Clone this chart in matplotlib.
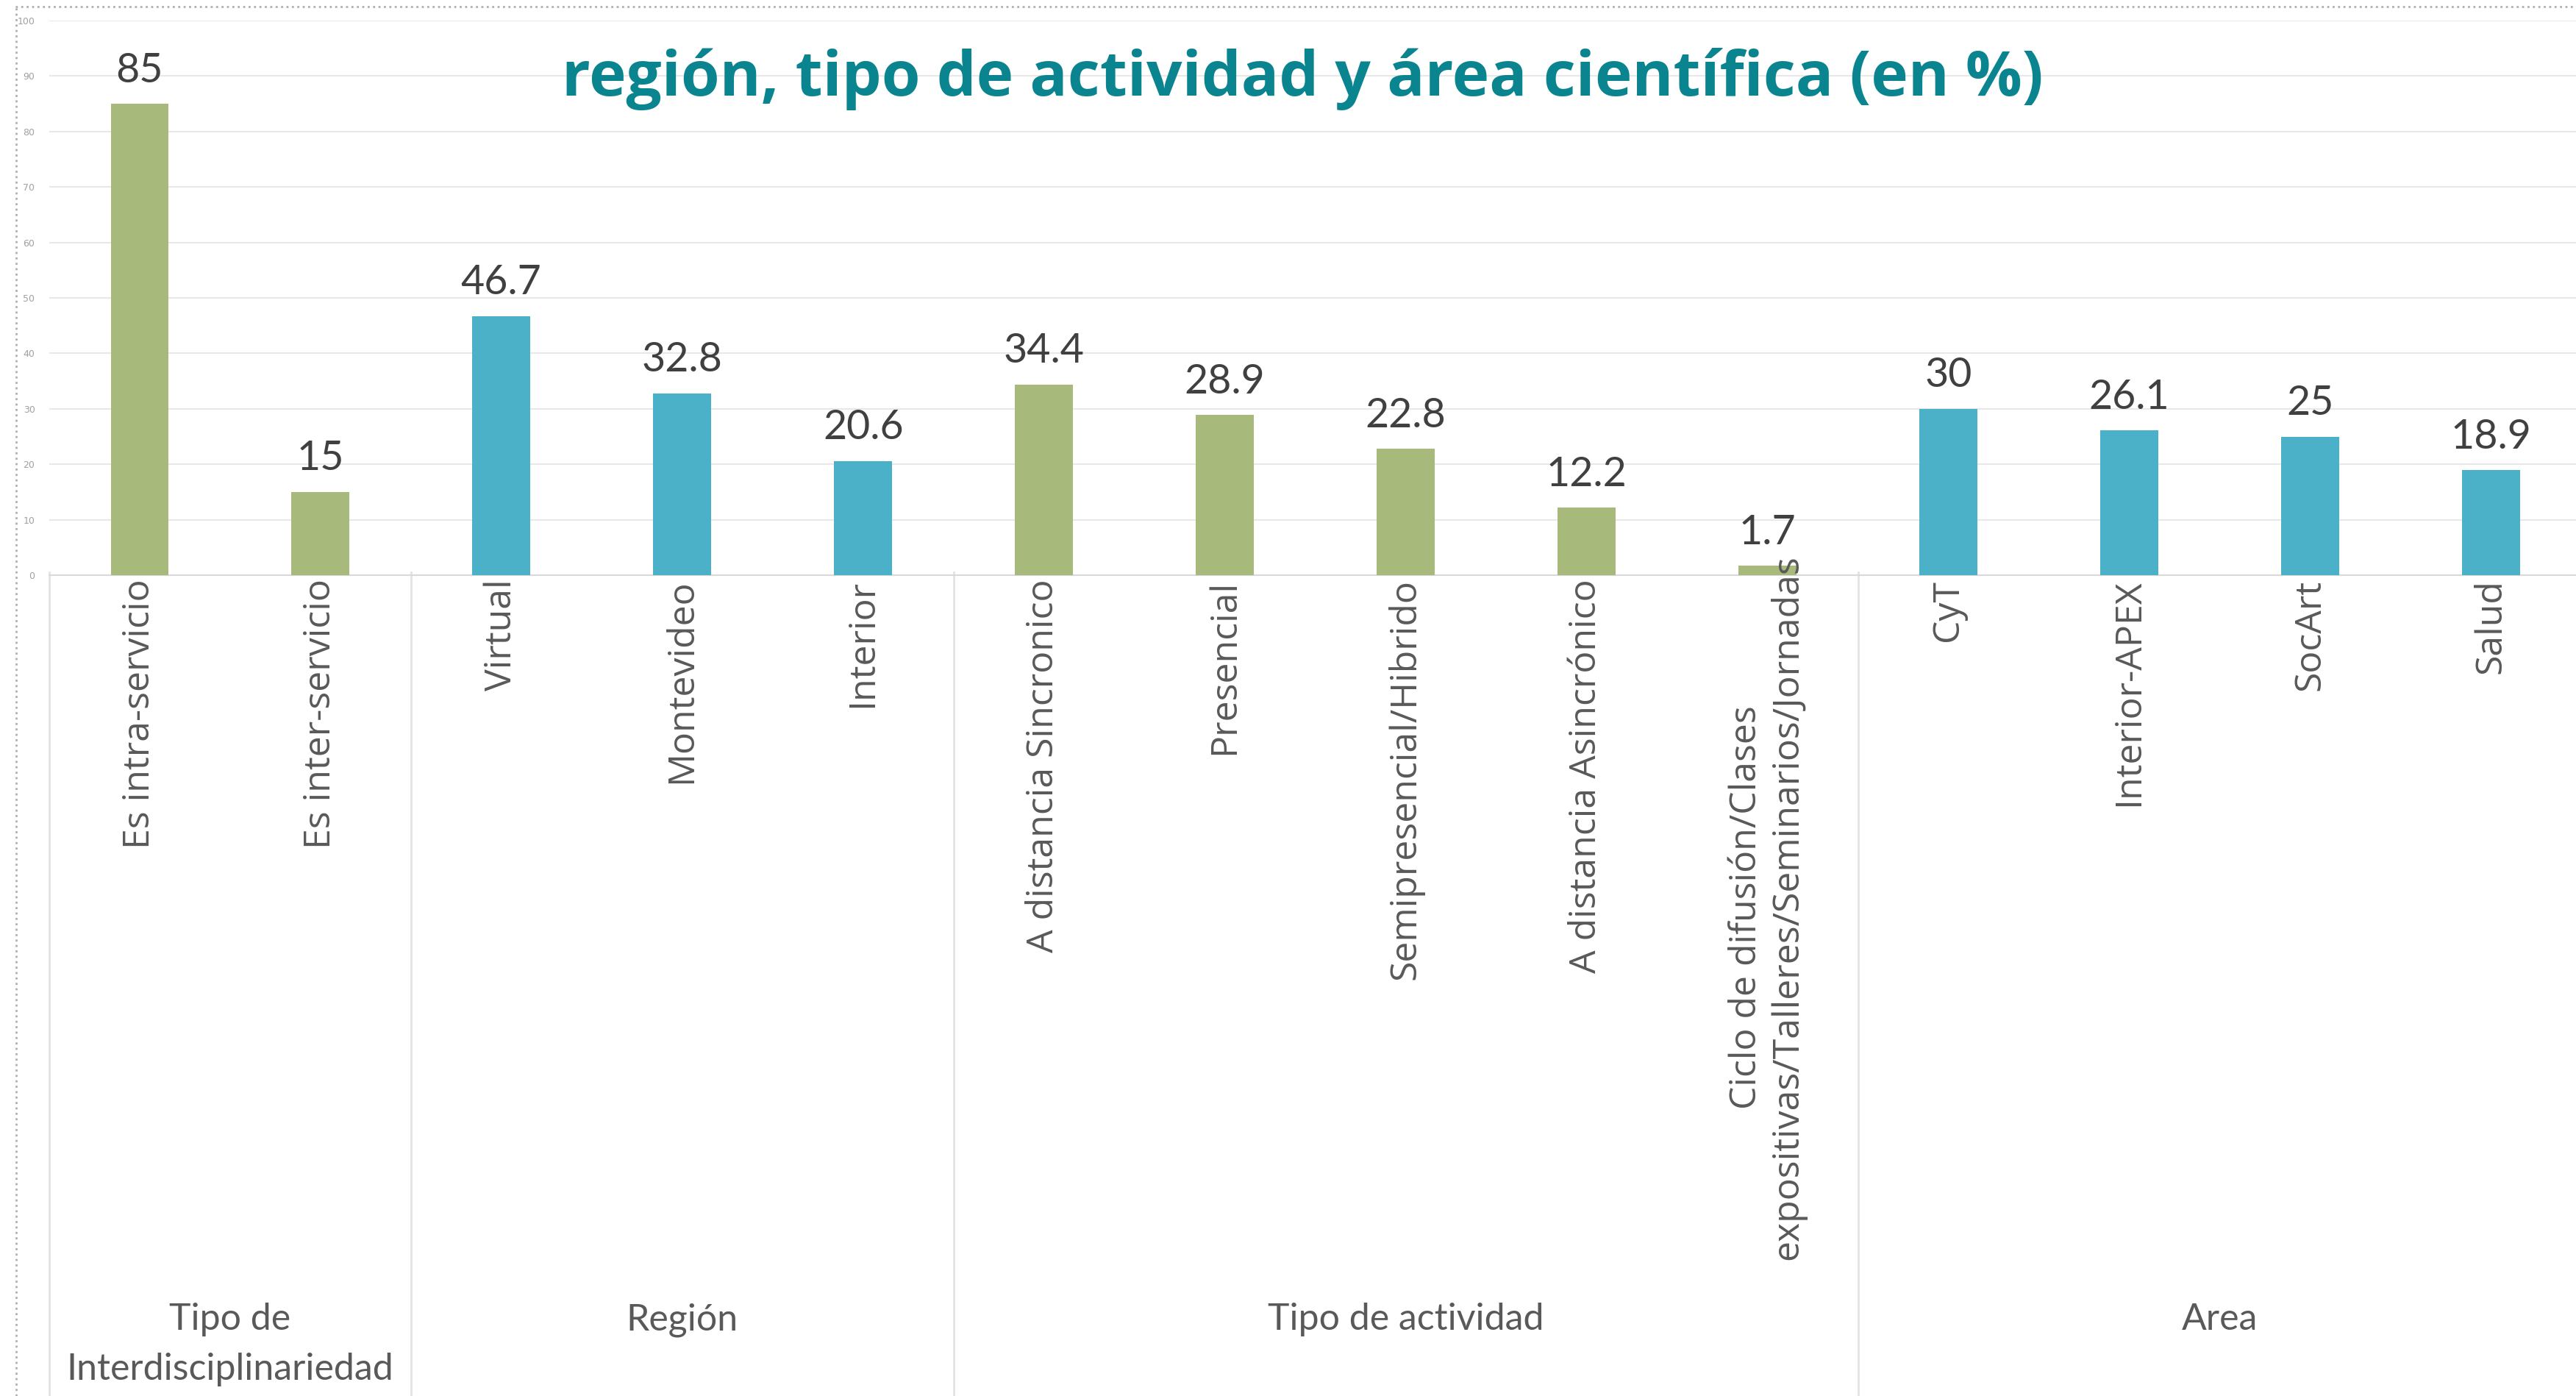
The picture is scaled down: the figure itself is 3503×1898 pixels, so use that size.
import matplotlib
matplotlib.use("Agg")
import matplotlib.pyplot as plt
from matplotlib import font_manager
from matplotlib.lines import Line2D
from matplotlib.transforms import blended_transform_factory

# --- Data ---
categories = ['Es intra-servicio', 'Es inter-servicio',
              'Virtual', 'Montevideo', 'Interior',
              'A distancia Sincronico', 'Presencial', 'Semipresencial/Hibrido',
              'A distancia Asincrónico',
              'Ciclo de difusión/Clases\nexpositivas/Talleres/Seminarios/Jornadas',
              'CyT', 'Interior-APEX', 'SocArt', 'Salud']
values = [85, 15, 46.7, 32.8, 20.6, 34.4, 28.9, 22.8, 12.2, 1.7, 30, 26.1, 25, 18.9]
groups = ['Tipo de\nInterdisciplinariedad', 'Región', 'Tipo de actividad', 'Area']
group_sizes = [2, 3, 5, 4]
group_colors = ['#A8B97C', '#4BB1C8', '#A8B97C', '#4BB1C8']
title_line2 = 'región, tipo de actividad y área científica (en %)'

# --- Fonts ---
installed = {f.name for f in font_manager.fontManager.ttflist}
narrow = 'Liberation Sans Narrow' if 'Liberation Sans Narrow' in installed else 'Lato'

# --- Figure ---
fig = plt.figure(figsize=(35.03, 18.98), dpi=100)
ax = fig.add_axes([0.0191, 0.588, 0.983, 0.3972])

colors = []
for c, n in zip(group_colors, group_sizes):
    colors += [c] * n

x = list(range(len(values)))
bars = ax.bar(x, values, width=0.32, color=colors, zorder=3)

for xi, v in zip(x, values):
    ax.annotate(f'{v:g}', (xi, v), xytext=(0, 14), textcoords='offset points',
                ha='center', va='bottom', fontsize=40, color='#404040',
                family=narrow, zorder=4)

ax.set_xlim(-0.5, len(values) - 0.5)
ax.set_ylim(0, 100)
ax.set_yticks(range(0, 101, 10))
ax.tick_params(axis='y', length=0, labelsize=9, labelcolor='#A0A0A0', pad=14)
ax.yaxis.grid(True, color='#E8E8E8', linewidth=1.5, zorder=0)
for s in ['top', 'right', 'left']:
    ax.spines[s].set_visible(False)
ax.spines['bottom'].set_color('#D9D9D9')
ax.spines['bottom'].set_linewidth(1.5)

# the long two-line label sits centred lower down, so it is drawn apart
long_idx = 9
ticklabels = [c if i != long_idx else '' for i, c in enumerate(categories)]
ax.set_xticks(x)
ax.set_xticklabels(ticklabels, rotation=90, fontsize=36, color='#595959',
                   family='Open Sans', rotation_mode='anchor',
                   ha='right', va='center')
ax.tick_params(axis='x', length=0, pad=4)

trans = blended_transform_factory(ax.transData, fig.transFigure)
ax.text(long_idx, 0.35, categories[long_idx], transform=trans, rotation=90,
        ha='center', va='center', multialignment='center', fontsize=36,
        color='#595959', family='Open Sans', linespacing=1.15)

# group separators and group labels
bounds = [-0.5]
for n in group_sizes:
    bounds.append(bounds[-1] + n)
for b in bounds[:-1]:
    ax.add_line(Line2D([b, b], [0, 0.59], transform=trans, color='#E3E3E3',
                       linewidth=2, clip_on=False))
for g, lo, hi in zip(groups, bounds[:-1], bounds[1:]):
    ax.text((lo + hi) / 2, 0.0668, g, transform=trans, ha='center', va='top',
            fontsize=36, color='#595959', family=narrow, linespacing=1.6)

# title (first line is cut off in the source)
fig.text(0.5057, 0.9436, title_line2, ha='center', va='center', fontsize=61.5,
         fontweight='bold', color='#0A8590', family='Open Sans')

# dotted frame of the screenshot
fig.add_artist(Line2D([0.006, 1], [0.995, 0.995], color='#B0B0B0',
                      linestyle=':', linewidth=2))
fig.add_artist(Line2D([0.0062, 0.0062], [0, 0.995], color='#B0B0B0',
                      linestyle=':', linewidth=2))

fig.savefig('out.png', dpi=100, facecolor='white')
